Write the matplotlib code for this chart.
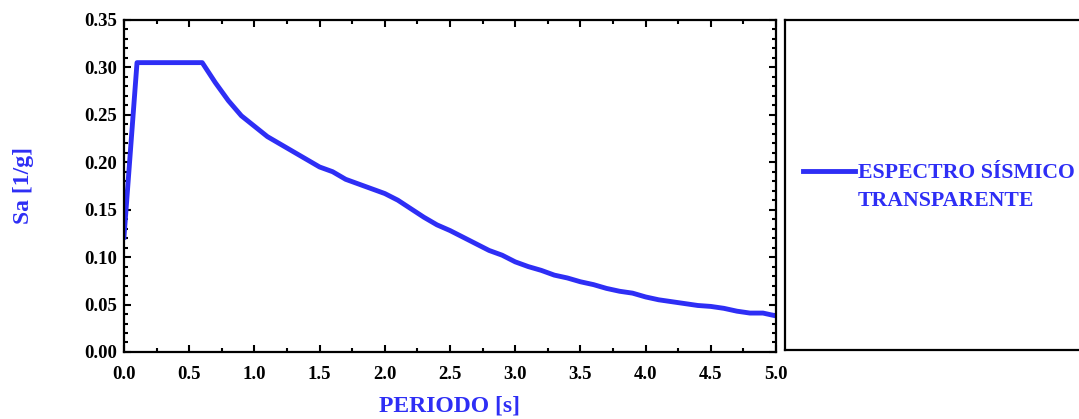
import numpy as np
import matplotlib
matplotlib.use('Agg')
import matplotlib.pyplot as plt
from matplotlib.ticker import MultipleLocator, FormatStrFormatter

# periodo [s] and spectral acceleration
periodo = [0.0, 0.1, 0.6, 0.7, 0.8, 0.9, 1.0, 1.1, 1.2, 1.3, 1.4, 1.5, 1.6, 1.7,
           1.8, 1.9, 2.0, 2.1, 2.2, 2.3, 2.4, 2.5, 2.6, 2.7, 2.8, 2.9, 3.0, 3.1,
           3.2, 3.3, 3.4, 3.5, 3.6, 3.7, 3.8, 3.9, 4.0, 4.1, 4.2, 4.3, 4.4, 4.5,
           4.6, 4.7, 4.8, 4.9, 5.0]
sa = [0.121, 0.305, 0.305, 0.284, 0.265, 0.249, 0.238, 0.227, 0.219, 0.211,
      0.203, 0.195, 0.190, 0.182, 0.177, 0.172, 0.167, 0.160, 0.151, 0.142,
      0.134, 0.128, 0.121, 0.114, 0.107, 0.102, 0.095, 0.090, 0.086, 0.081,
      0.078, 0.074, 0.071, 0.067, 0.064, 0.062, 0.058, 0.055, 0.053, 0.051,
      0.049, 0.048, 0.046, 0.043, 0.041, 0.041, 0.038]
serie = ['ESPECTRO SÍSMICO', 'TRANSPARENTE']

azul = '#2e2ef5'
plt.rcParams['font.family'] = ['Liberation Serif', 'DejaVu Serif']
plt.rcParams['font.weight'] = 'bold'

fig = plt.figure(figsize=(10.79, 4.19), dpi=100)
ax = fig.add_axes([0.1149, 0.16, 0.6043, 0.7924])

linea, = ax.plot(periodo, sa, color=azul, lw=3.5, solid_joinstyle='round', label=serie[0])

ax.set_xlim(0, 5)
ax.set_ylim(0, 0.35)
ax.xaxis.set_major_locator(MultipleLocator(0.5))
ax.xaxis.set_minor_locator(MultipleLocator(0.25))
ax.yaxis.set_major_locator(MultipleLocator(0.05))
ax.yaxis.set_minor_locator(MultipleLocator(0.01))
ax.xaxis.set_major_formatter(FormatStrFormatter('%.1f'))
ax.yaxis.set_major_formatter(FormatStrFormatter('%.2f'))
ax.tick_params(which='both', direction='in', top=True, right=True, width=1.5,
               labelsize=13.5, labelcolor='black')
ax.tick_params(which='major', length=5)
ax.tick_params(which='minor', length=3)
ax.tick_params(axis='x', which='major', pad=10)
ax.tick_params(axis='y', which='major', pad=5)
for s in ax.spines.values():
    s.set_linewidth(1.6)

ax.set_xlabel('PERIODO [s]', color=azul, fontsize=17, fontweight='bold', labelpad=9)
ax.set_ylabel('Sa [1/g]', color=azul, fontsize=17, fontweight='bold', labelpad=36)

# legend frame, runs off the right edge like the original
lax = fig.add_axes([0.7275, 0.1647, 0.30, 0.7876])
lax.set_xticks([])
lax.set_yticks([])
lax.set_xlim(0, 1)
lax.set_ylim(0, 1)
for s in lax.spines.values():
    s.set_linewidth(1.6)
lax.legend(handles=[linea], loc='center left', bbox_to_anchor=(0.0556, 0.536),
           frameon=False, borderpad=0, borderaxespad=0,
           handlelength=2.4, handletextpad=0.12,
           prop={'family': 'Liberation Serif', 'weight': 'bold', 'size': 15.7},
           labelcolor=azul)
lax.text(0.2255, 0.452, serie[1], transform=lax.transAxes, color=azul,
         fontsize=15.7, fontweight='bold', va='center', ha='left')

fig.savefig('out.png', dpi=100)
